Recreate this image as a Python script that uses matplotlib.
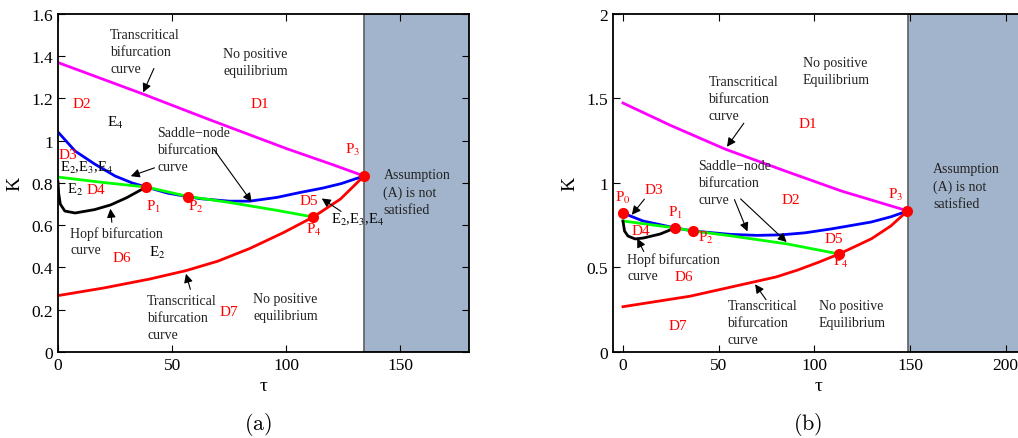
import matplotlib
matplotlib.use('Agg')
import matplotlib.pyplot as plt

plt.rcParams['font.family'] = 'Liberation Serif'
plt.rcParams['mathtext.fontset'] = 'stix'

# ---- panel (a) data ----
tau_mag_a = [0, 37, 67, 100, 121, 134]
K_mag_a = [1.37, 1.222, 1.097, 0.963, 0.884, 0.833]

tau_blue_a = [0, 7.5, 16, 25, 32.5, 38.6, 48, 57, 62, 75, 84, 96, 106, 116, 124, 134]
K_blue_a = [1.041, 0.951, 0.89, 0.833, 0.80, 0.781, 0.752, 0.735, 0.726, 0.714, 0.714,
            0.732, 0.755, 0.776, 0.797, 0.833]

tau_green_a = [0, 20, 38.6, 57, 75, 95, 111.8]
K_green_a = [0.828, 0.802, 0.781, 0.736, 0.708, 0.672, 0.639]

tau_hopf_a = [0, 0.3, 1, 3, 7.5, 16, 23, 30, 38.6]
K_hopf_a = [0.805, 0.75, 0.70, 0.667, 0.658, 0.674, 0.696, 0.730, 0.781]

tau_red_a = [0, 20, 40, 56, 70, 84, 98.7, 111.8, 123.7, 134]
K_red_a = [0.267, 0.303, 0.345, 0.385, 0.43, 0.49, 0.565, 0.639, 0.724, 0.833]

pts_tau_a = [38.6, 57, 134, 111.8]
pts_K_a = [0.781, 0.734, 0.833, 0.639]
tau_limit_a = 134.2

# ---- panel (b) data ----
tau_mag_b = [0, 25, 53.5, 85, 114, 149]
K_mag_b = [1.473, 1.34, 1.20, 1.07, 0.953, 0.834]

tau_blue_b = [0, 10.5, 27.3, 36.7, 56, 70, 82.4, 95, 108.7, 119, 129.7, 140, 148.6]
K_blue_b = [0.822, 0.775, 0.734, 0.716, 0.696, 0.69, 0.693, 0.705, 0.728, 0.748,
            0.769, 0.80, 0.834]

tau_green_b = [0, 27.3, 36.7, 56, 86, 112.9]
K_green_b = [0.775, 0.734, 0.716, 0.688, 0.639, 0.58]

tau_hopf_b = [0, 0.8, 2.6, 6.3, 10.5, 19.4, 27.3]
K_hopf_b = [0.775, 0.716, 0.686, 0.669, 0.674, 0.698, 0.734]

tau_red_b = [0, 35, 68.2, 80, 91.3, 102, 112.9, 122, 130, 140, 148.6]
K_red_b = [0.268, 0.33, 0.414, 0.444, 0.485, 0.53, 0.58, 0.628, 0.671, 0.746, 0.834]

pts_tau_b = [0, 27.3, 36.7, 148.6, 112.9]
pts_K_b = [0.822, 0.734, 0.716, 0.834, 0.58]
tau_limit_b = 149

shade = '#a2b4cb'
red = '#ff0000'
lw = 2.0

fig = plt.figure(figsize=(10.18, 4.39), dpi=100)
ax1 = fig.add_axes([0.0570, 0.1959, 0.4037, 0.770])
ax2 = fig.add_axes([0.6022, 0.1959, 0.4045, 0.770])


def draw(ax, mag, blue, green, hopf, redc, pts, lim, xmax):
    ax.axvspan(lim, xmax + 10, facecolor=shade, edgecolor='#5f5f5f', lw=1.2, zorder=0)
    ax.plot(*mag, color='#ff00ff', lw=lw)
    ax.plot(*redc, color=red, lw=lw)
    ax.plot(*blue, color='#0000ff', lw=lw)
    ax.plot(*green, color='#00ff00', lw=lw)
    ax.plot(*hopf, color='black', lw=lw)
    ax.plot(*pts, 'o', color=red, ms=7, zorder=5)
    ax.tick_params(direction='in', top=True, right=True, length=5, width=0.8,
                   labelsize=12.5)
    ax.set_xlabel('τ', fontsize=14, labelpad=3)
    ax.set_ylabel('K', fontsize=14, labelpad=6)
    for s in ax.spines.values():
        s.set_linewidth(1.3)


def note(ax, x, y, s, **kw):
    ax.text(x, y, s, fontsize=10, color='#222222', ha='left', va='top',
            linespacing=1.42, **kw)


def red_lab(ax, x, y, s, ha='left'):
    ax.text(x, y, s, fontsize=11, color=red, ha=ha, va='center')


def arrow(ax, tail, tip):
    ax.annotate('', xy=tip, xytext=tail,
                arrowprops=dict(arrowstyle='-|>', color='black', lw=0.8,
                                mutation_scale=13))


# ---------- panel (a) ----------
draw(ax1, (tau_mag_a, K_mag_a), (tau_blue_a, K_blue_a), (tau_green_a, K_green_a),
     (tau_hopf_a, K_hopf_a), (tau_red_a, K_red_a), (pts_tau_a, pts_K_a),
     tau_limit_a, 180)
ax1.set_xlim(0, 180)
ax1.set_ylim(0, 1.6)
ax1.set_xticks([0, 50, 100, 150])
ax1.set_yticks([0, 0.2, 0.4, 0.6, 0.8, 1.0, 1.2, 1.4, 1.6])
ax1.set_yticklabels(['0', '0.2', '0.4', '0.6', '0.8', '1', '1.2', '1.4', '1.6'])

note(ax1, 22.8, 1.534, 'Transcritical\nbifurcation\ncurve')
arrow(ax1, (42.5, 1.354), (36.8, 1.217))
note(ax1, 72.4, 1.444, 'No positive\nequilibrium')
red_lab(ax1, 88.6, 1.174, 'D1', ha='center')
red_lab(ax1, 10.5, 1.174, 'D2', ha='center')
ax1.text(21.5, 1.089, 'E$_4$', fontsize=11, ha='left', va='center')
note(ax1, 43.4, 1.07, 'Saddle−node\nbifurcation\ncurve')
arrow(ax1, (43.4, 0.876), (30.7, 0.828))
arrow(ax1, (67.5, 0.970), (85.5, 0.70))
red_lab(ax1, 0.3, 0.937, 'D3')
ax1.text(1, 0.876, 'E$_2$,E$_3$,E$_4$', fontsize=10.5, ha='left', va='center')
ax1.text(4, 0.77, 'E$_2$', fontsize=10.5, ha='left', va='center')
red_lab(ax1, 12.3, 0.77, 'D4')
red_lab(ax1, 38.6, 0.691, 'P$_1$')
red_lab(ax1, 57, 0.691, 'P$_2$')
red_lab(ax1, 125.9, 0.961, 'P$_3$')
red_lab(ax1, 105.7, 0.715, 'D5')
red_lab(ax1, 108.8, 0.582, 'P$_4$')
ax1.text(119.7, 0.63, 'E$_2$,E$_3$,E$_4$', fontsize=10.5, ha='left', va='center')
arrow(ax1, (125, 0.658), (114.5, 0.734))
note(ax1, 142.5, 0.871, 'Assumption\n(A) is not\nsatisfied')
note(ax1, 5.3, 0.596, 'Hopf bifurcation')
note(ax1, 5.3, 0.518, 'curve')
arrow(ax1, (23.7, 0.601), (22.8, 0.691))
red_lab(ax1, 28.1, 0.447, 'D6', ha='center')
ax1.text(40, 0.475, 'E$_2$', fontsize=11, ha='left', va='center')
note(ax1, 39, 0.275, 'Transcritical\nbifurcation\ncurve')
arrow(ax1, (58.3, 0.284), (55.7, 0.383))
red_lab(ax1, 74.6, 0.194, 'D7', ha='center')
note(ax1, 85.5, 0.284, 'No positive\nequilibrium')

# ---------- panel (b) ----------
draw(ax2, (tau_mag_b, K_mag_b), (tau_blue_b, K_blue_b), (tau_green_b, K_green_b),
     (tau_hopf_b, K_hopf_b), (tau_red_b, K_red_b), (pts_tau_b, pts_K_b),
     tau_limit_b, 210)
ax2.set_xlim(-5.2, 210)
ax2.set_ylim(0, 2)
ax2.set_xticks([0, 50, 100, 150, 200])
ax2.set_yticks([0, 0.5, 1, 1.5, 2])
ax2.set_yticklabels(['0', '0.5', '1', '1.5', '2'])

note(ax2, 94, 1.751, 'No positive\nEquilibrium')
note(ax2, 44.6, 1.639, 'Transcritical\nbifurcation\ncurve')
arrow(ax2, (64, 1.367), (53.5, 1.201))
red_lab(ax2, 96.6, 1.349, 'D1', ha='center')
note(ax2, 39.4, 1.142, 'Saddle−node\nbifurcation\ncurve')
arrow(ax2, (57.7, 0.917), (65.6, 0.698))
arrow(ax2, (60.4, 0.917), (86.6, 0.639))
red_lab(ax2, 87.7, 0.905, 'D2', ha='center')
red_lab(ax2, -4.2, 0.917, 'P$_0$')
red_lab(ax2, 11, 0.964, 'D3')
arrow(ax2, (12.1, 0.917), (3.7, 0.799))
red_lab(ax2, 4.7, 0.716, 'D4')
red_lab(ax2, 23.6, 0.828, 'P$_1$')
red_lab(ax2, 39.4, 0.68, 'P$_2$')
note(ax2, 2.1, 0.592, 'Hopf bifurcation')
note(ax2, 2.1, 0.492, 'curve')
arrow(ax2, (11.5, 0.58), (6.8, 0.686))
red_lab(ax2, 32, 0.445, 'D6', ha='center')
note(ax2, 54.6, 0.314, 'Transcritical\nbifurcation\ncurve')
arrow(ax2, (75.6, 0.296), (68.2, 0.414))
red_lab(ax2, 28.9, 0.154, 'D7', ha='center')
note(ax2, 102.4, 0.314, 'No positive\nEquilibrium')
red_lab(ax2, 110.2, 0.669, 'D5', ha='center')
red_lab(ax2, 109.7, 0.538, 'P$_4$')
red_lab(ax2, 138.6, 0.935, 'P$_3$')
note(ax2, 162.2, 1.124, 'Assumption\n(A) is not\nsatisfied')

fig.text(0.2535, 0.034, r'$\mathrm{(a)}$', fontsize=16, ha='center', va='center',
         math_fontfamily='cm')
fig.text(0.7937, 0.034, r'$\mathrm{(b)}$', fontsize=16, ha='center', va='center',
         math_fontfamily='cm')

fig.savefig('out.png', dpi=100)
